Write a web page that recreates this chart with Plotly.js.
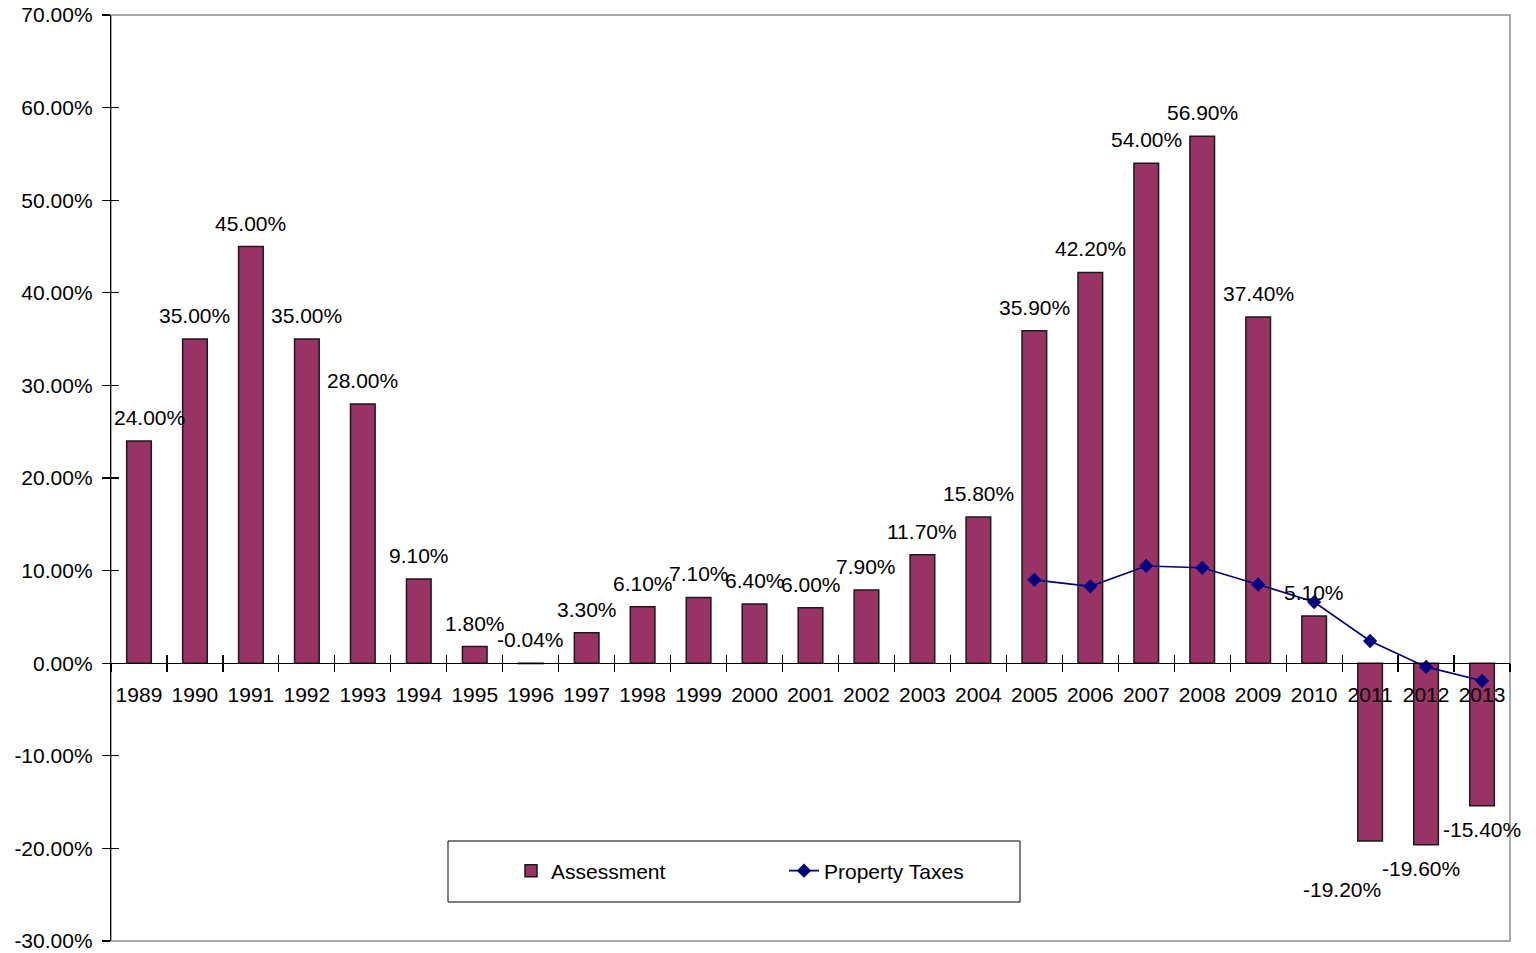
<!DOCTYPE html>
<html>
<head>
<meta charset="utf-8">
<script src="https://cdn.plot.ly/plotly-3.0.1.min.js"></script>
<style>html,body{margin:0;padding:0;background:#fff;}#chart{width:1536px;height:953px;}</style>
</head>
<body>
<div id="chart"></div>
<script>
// ---- data ----
var years = ["1989","1990","1991","1992","1993","1994","1995","1996","1997","1998","1999","2000","2001",
             "2002","2003","2004","2005","2006","2007","2008","2009","2010","2011","2012","2013"];
var assessment = [24.0, 35.0, 45.0, 35.0, 28.0, 9.1, 1.8, -0.04, 3.3, 6.1, 7.1, 6.4, 6.0,
                  7.9, 11.7, 15.8, 35.9, 42.2, 54.0, 56.9, 37.4, 5.1, -19.2, -19.6, -15.4];
var propertyTaxes = [null, null, null, null, null, null, null, null, null, null, null, null, null,
                     null, null, null, 9.0, 8.3, 10.5, 10.3, 8.5, 6.6, 2.4, -0.4, -1.9];
var yTickVals = [-30, -20, -10, 0, 10, 20, 30, 40, 50, 60, 70];

// ---- label styling (nudges in pixels) ----
var labelNudge = {"1989": [11, 0], "2011": [-28, -49], "2012": [-5, -24], "2013": [0, -24]};

var fontFam = "Liberation Sans, Arial, sans-serif";

var annotations = years.map(function (yr, i) {
  var v = assessment[i];
  var n = labelNudge[yr] || [0, 0];
  var neg = v < -1;
  return {
    x: i, y: neg ? v : Math.max(v, 0), xref: "x", yref: "y",
    text: v.toFixed(2) + "%", showarrow: false,
    xanchor: "center", yanchor: neg ? "middle" : "bottom",
    xshift: n[0], yshift: neg ? n[1] : 10,
    font: {family: fontFam, size: 21, color: "#000"}
  };
});

var traces = [
  {
    type: "bar", name: "Assessment", x: years, y: assessment,
    marker: {color: "#993366", line: {color: "#1a1a1a", width: 1.5}},
    hoverinfo: "x+y"
  },
  {
    type: "scatter", mode: "lines+markers", name: "Property Taxes", x: years, y: propertyTaxes,
    line: {color: "#000080", width: 1.6},
    marker: {symbol: "diamond", size: 11, color: "#000080"},
    connectgaps: false
  },
  {
    type: "scatter", mode: "none", x: years, y: assessment, xaxis: "x2", yaxis: "y2",
    showlegend: false, hoverinfo: "skip"
  }
];

var layout = {
  width: 1536, height: 953,
  margin: {l: 111, r: 26, t: 15, b: 12},
  paper_bgcolor: "#fff", plot_bgcolor: "#fff",
  font: {family: fontFam, size: 21, color: "#000"},
  bargap: 0.56,
  showlegend: true,
  legend: {
    orientation: "h", x: (511 - 111) / 1399, xanchor: "left", y: 0.0756, yanchor: "middle",
    font: {family: fontFam, size: 21, color: "#000"},
    bgcolor: "rgba(0,0,0,0)", borderwidth: 0,
    entrywidth: 228, entrywidthmode: "pixels", traceorder: "normal"
  },
  xaxis: {
    type: "category", range: [-0.5, 24.5], anchor: "free", position: 0.3,
    showline: true, linecolor: "#000", linewidth: 1.2,
    ticks: "outside", ticklen: 8, tickcolor: "#000", tickwidth: 1.2, tickson: "boundaries",
    tickangle: 0, ticklabelstandoff: 12, showgrid: false, zeroline: false, fixedrange: true,
    tickfont: {family: fontFam, size: 21, color: "#000"}
  },
  xaxis2: {
    type: "category", range: [-0.5, 24.5], overlaying: "x", anchor: "free", position: 0.3,
    showline: false, ticks: "inside", ticklen: 8, tickcolor: "#000", tickwidth: 1.2,
    tickson: "boundaries", showticklabels: false, showgrid: false, zeroline: false
  },
  yaxis: {
    range: [-30, 70], tickvals: yTickVals, ticktext: yTickVals.map(function (v) { return v.toFixed(2) + "%"; }),
    showline: true, linecolor: "#000", linewidth: 1.2,
    ticks: "outside", ticklen: 8, tickcolor: "#000", tickwidth: 1.2,
    ticklabelstandoff: 5, showgrid: false, zeroline: false, fixedrange: true,
    tickfont: {family: fontFam, size: 21, color: "#000"}
  },
  yaxis2: {
    range: [-30, 70], overlaying: "y", side: "left", tickvals: yTickVals,
    showline: false, ticks: "inside", ticklen: 8, tickcolor: "#000", tickwidth: 1.2,
    showticklabels: false, showgrid: false, zeroline: false
  },
  annotations: annotations,
  shapes: [
    {type: "rect", xref: "paper", yref: "paper", x0: 0, x1: 1, y0: 0, y1: 1,
     line: {color: "#8c8c8c", width: 1.5}, layer: "below"},
    {type: "rect", xref: "paper", yref: "paper",
     x0: (448 - 111) / 1399, x1: (1020 - 111) / 1399, y0: (941 - 902) / 926, y1: (941 - 841) / 926,
     line: {color: "#000", width: 1}, fillcolor: "rgba(0,0,0,0)", layer: "above"}
  ]
};

Plotly.newPlot("chart", traces, layout, {displayModeBar: false, staticPlot: true});
</script>
</body>
</html>
